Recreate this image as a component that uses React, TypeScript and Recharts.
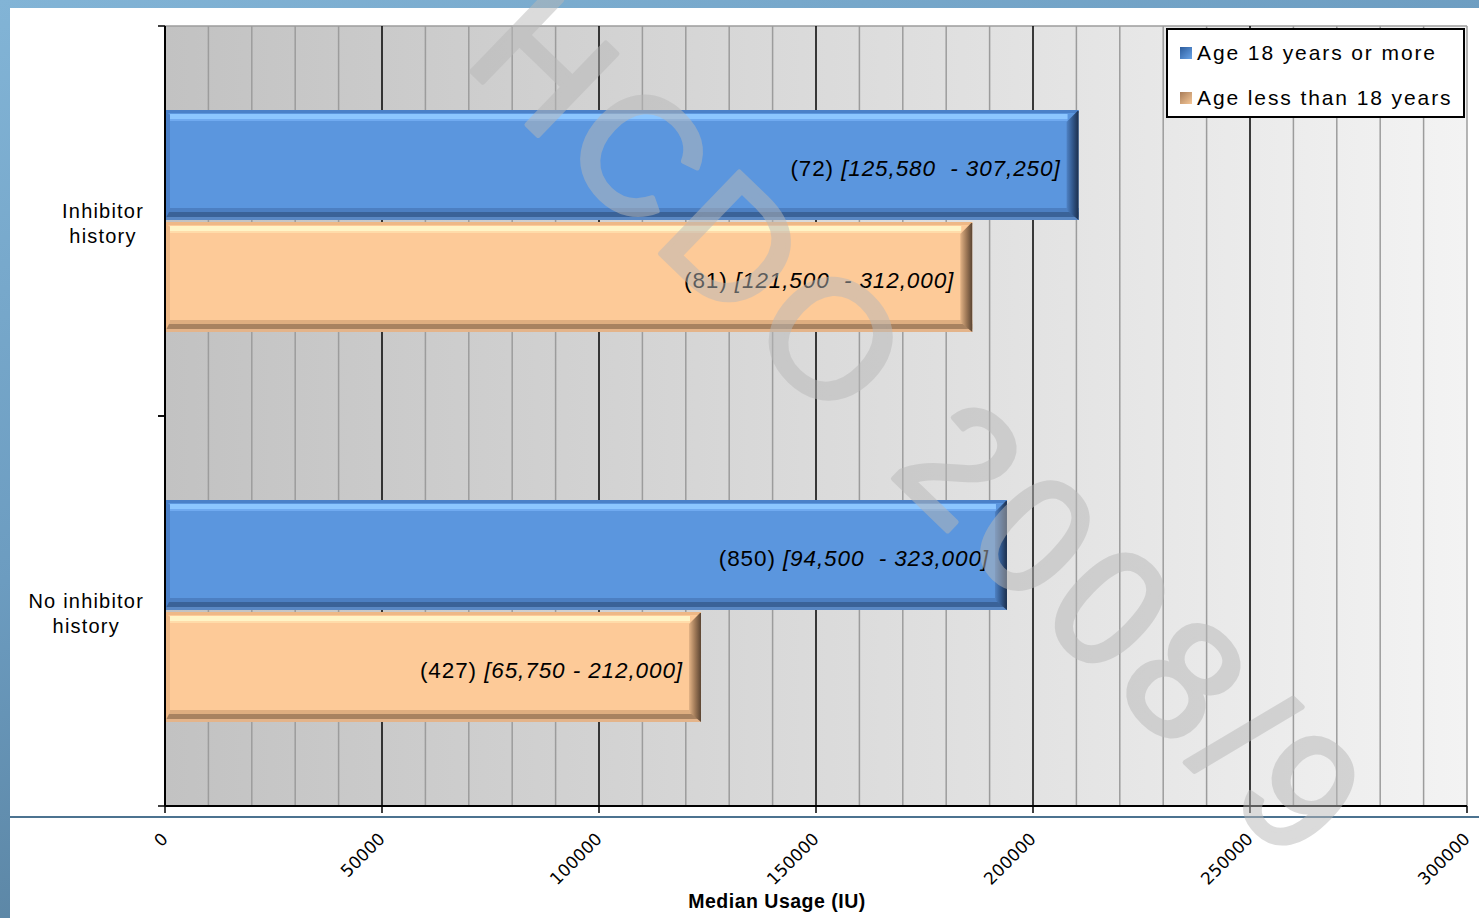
import React from 'react';
import { BarChart, Bar, XAxis, YAxis, CartesianGrid, Legend, LabelList } from 'recharts';

const categories = ['Inhibitor history', 'No inhibitor history'];
const categoryLines = [['Inhibitor', 'history'], ['No inhibitor', 'history']];
const seriesNames = ['Age 18 years or more', 'Age less than 18 years'];
const adultMedian = [210500, 194000];
const childMedian = [186000, 123500];
const adultCount = ['(72)', '(850)'];
const childCount = ['(81)', '(427)'];
const adultRange = ['[125,580  - 307,250]', '[94,500  - 323,000]'];
const childRange = ['[121,500  - 312,000]', '[65,750 - 212,000]'];
const majorTicks = [0, 50000, 100000, 150000, 200000, 250000, 300000];
const majorGrid = [50000, 100000, 150000, 200000, 250000];
const minorGrid = [
  10000, 20000, 30000, 40000, 60000, 70000, 80000, 90000, 110000, 120000, 130000, 140000,
  160000, 170000, 180000, 190000, 210000, 220000, 230000, 240000, 260000, 270000, 280000,
  290000, 300000,
];

const W = 1479;
const H = 918;
const PLOT_LEFT = 165;
const PLOT_TOP = 26;
const X_AXIS_H = 112;
const BAND = (H - PLOT_TOP - X_AXIS_H) / categories.length;
const SANS = '"Liberation Sans", Arial, sans-serif';

const data = categories.map((name, i) => ({
  name,
  adult: adultMedian[i],
  child: childMedian[i],
}));

const blue = {
  main: '#5b96de', edge: '#4a80c8', light: '#8cc6ff', mid: '#70aaf0',
  shade1: '#4c7fc2', shade2: '#3a6298', base: '#5a88c4', grad: 'blueEnd',
};
const orange = {
  main: '#fdca98', edge: '#eeb886', light: '#fff4c6', mid: '#ffdcaa',
  shade1: '#dfae80', shade2: '#a88260', base: '#e4b48a', grad: 'orangeEnd',
};

let ctx: CanvasRenderingContext2D | null = null;
const textWidth = (s: string, font: string, spacing: number) => {
  if (!ctx) ctx = document.createElement('canvas').getContext('2d');
  if (!ctx) return s.length * 9;
  ctx.font = font;
  return ctx.measureText(s).width + spacing * s.length;
};

const BevelBar = (props: any, pal: typeof blue) => {
  const { x, y, width, height } = props;
  if (!width || width <= 0) return <g />;
  const r = x + width;
  const b = y + height;
  return (
    <g>
      <rect x={x} y={y} width={width} height={height} fill={pal.main} />
      <rect x={x} y={y} width={width} height={3} fill={pal.edge} />
      <rect x={x + 5} y={y + 4} width={width - 16} height={5} fill={pal.light} />
      <rect x={x + 5} y={y + 9} width={width - 16} height={2} fill={pal.mid} />
      <rect x={x} y={b - 12} width={width} height={4} fill={pal.shade1} />
      <rect x={x} y={b - 8} width={width} height={5} fill={pal.shade2} />
      <rect x={x} y={b - 3} width={width} height={3} fill={pal.base} />
      <polygon points={`${x},${y} ${x + 5},${y + 5} ${x + 5},${b - 10} ${x},${b}`} fill={pal.edge} />
      <polygon
        points={`${r - 12},${y + 12} ${r - 1},${y + 1} ${r},${y + 1} ${r},${b} ${r - 12},${b - 10}`}
        fill={`url(#${pal.grad})`}
      />
    </g>
  );
};

const makeBarLabel = (counts: string[], ranges: string[]) => (props: any) => {
  const { x, y, width, height, index } = props;
  return (
    <text
      x={x + width - 18}
      y={y + height / 2 + 11}
      textAnchor="end"
      fontFamily={SANS}
      fontSize={22.5}
      letterSpacing={0.9}
      fill="#000"
      style={{ whiteSpace: 'pre' }}
    >
      <tspan>{counts[index] + ' '}</tspan>
      <tspan fontStyle="italic">{ranges[index]}</tspan>
    </text>
  );
};

const YTick = (props: any) => {
  const { y, payload } = props;
  const i = categories.indexOf(payload.value);
  const lines = categoryLines[i] || [payload.value];
  const font = `20px ${SANS}`;
  const maxW = Math.max(...lines.map((l) => textWidth(l, font, 1.2)));
  const cx = 144 - maxW / 2;
  return (
    <g>
      <line x1={PLOT_LEFT - 7} x2={PLOT_LEFT} y1={y - BAND / 2} y2={y - BAND / 2} stroke="#000" strokeWidth={1.5} />
      <line x1={PLOT_LEFT - 7} x2={PLOT_LEFT} y1={y + BAND / 2} y2={y + BAND / 2} stroke="#000" strokeWidth={1.5} />
      {lines.map((l, k) => (
        <text
          key={k}
          x={cx}
          y={y - 3 + k * 25}
          textAnchor="middle"
          fontFamily={SANS}
          fontSize={20}
          letterSpacing={1.2}
          fill="#000"
        >
          {l}
        </text>
      ))}
    </g>
  );
};

const XTick = (props: any) => {
  const { x, y, payload } = props;
  const ax = x + 4;
  const ay = y + 25;
  return (
    <text
      x={ax}
      y={ay}
      transform={`rotate(-45 ${ax} ${ay})`}
      textAnchor="end"
      fontFamily='"DejaVu Sans", Verdana, sans-serif'
      fontSize={17}
      fill="#000"
    >
      {payload.value}
    </text>
  );
};

const LegendBox = () => {
  const icons = [
    'linear-gradient(135deg, #2c5c9c, #6aa4e8)',
    'linear-gradient(135deg, #a87c58, #f6c898)',
  ];
  return (
    <div
      style={{
        width: 299, height: 90, boxSizing: 'border-box', border: '2px solid #000',
        background: '#fff', position: 'relative', fontFamily: SANS,
      }}
    >
      {seriesNames.map((n, i) => (
        <div key={n} style={{ position: 'absolute', left: 12, top: 8 + i * 45, height: 30, display: 'flex', alignItems: 'center' }}>
          <div style={{ width: 12, height: 12, background: icons[i], marginRight: 5 }} />
          <span style={{ fontSize: 21, letterSpacing: 1.9, color: '#000', whiteSpace: 'nowrap' }}>{n}</span>
        </div>
      ))}
    </div>
  );
};

export default function App() {
  return (
    <div style={{ position: 'absolute', left: 0, top: 0, width: W, height: H, overflow: 'hidden' }}>
      <div
        style={{
          position: 'absolute', inset: 0,
          background: 'linear-gradient(160deg, #82b4d6 0%, #6c9cc0 40%, #45677f 100%)',
        }}
      />
      <div style={{ position: 'absolute', left: 10, top: 8, right: 0, bottom: 0, background: '#fff' }} />
      <div style={{ position: 'absolute', left: 10, top: 816, right: 0, height: 1.5, background: '#4c7390' }} />
      <div style={{ position: 'absolute', left: 0, top: 0 }}>
        <BarChart
          width={W}
          height={H}
          data={data}
          layout="vertical"
          margin={{ top: PLOT_TOP, right: 12, bottom: 0, left: 0 }}
          barSize={110}
          barGap={2}
        >
          <defs>
            <linearGradient id="plotBg" x1="0" y1="0" x2="1" y2="0">
              <stop offset="0%" stopColor="#c2c2c2" />
              <stop offset="100%" stopColor="#f3f3f3" />
            </linearGradient>
            <linearGradient id="blueEnd" x1="0" y1="0" x2="1" y2="0">
              <stop offset="0%" stopColor="#4f82c4" />
              <stop offset="50%" stopColor="#32588c" />
              <stop offset="100%" stopColor="#1c2f4c" />
            </linearGradient>
            <linearGradient id="orangeEnd" x1="0" y1="0" x2="1" y2="0">
              <stop offset="0%" stopColor="#e4b486" />
              <stop offset="50%" stopColor="#a07a58" />
              <stop offset="100%" stopColor="#5a4432" />
            </linearGradient>
          </defs>
          <CartesianGrid
            fill="url(#plotBg)"
            stroke="#9c9c9c"
            strokeWidth={1.5}
            horizontalPoints={[PLOT_TOP]}
            verticalValues={minorGrid}
          />
          <CartesianGrid stroke="#000" strokeWidth={1.5} horizontal={false} verticalValues={majorGrid} />
          <XAxis
            type="number"
            domain={[0, 300000]}
            ticks={majorTicks}
            interval={0}
            height={X_AXIS_H}
            axisLine={{ stroke: '#000', strokeWidth: 2 }}
            tickLine={{ stroke: '#000', strokeWidth: 1.5 }}
            tickSize={7}
            tick={<XTick />}
            label={{
              value: 'Median Usage (IU)',
              position: 'insideBottom',
              offset: 10,
              dx: -39,
              style: { fontFamily: SANS, fontSize: 19.5, fontWeight: 'bold', fill: '#000', letterSpacing: 0.5 },
            }}
          />
          <YAxis
            type="category"
            dataKey="name"
            width={PLOT_LEFT}
            axisLine={{ stroke: '#000', strokeWidth: 2 }}
            tickLine={false}
            tick={<YTick />}
            interval={0}
          />
          <Legend
            layout="horizontal"
            verticalAlign="middle"
            align="center"
            content={<LegendBox />}
            wrapperStyle={{ position: 'absolute', left: 1166, top: 28, width: 299, height: 90 }}
          />
          <Bar
            dataKey="adult"
            name={seriesNames[0]}
            fill={blue.main}
            isAnimationActive={false}
            shape={(p: any) => BevelBar(p, blue)}
          >
            <LabelList content={makeBarLabel(adultCount, adultRange)} />
          </Bar>
          <Bar
            dataKey="child"
            name={seriesNames[1]}
            fill={orange.main}
            isAnimationActive={false}
            shape={(p: any) => BevelBar(p, orange)}
          >
            <LabelList content={makeBarLabel(childCount, childRange)} />
          </Bar>
        </BarChart>
      </div>
      <svg width={W} height={H} style={{ position: 'absolute', left: 0, top: 0, pointerEvents: 'none' }}>
        <g opacity={0.5}>
          <text
            x={462}
            y={62}
            transform="rotate(44 462 62)"
            fontFamily={SANS}
            fontSize={165}
            letterSpacing={12}
            fill="#b8b8b8"
            stroke="#b8b8b8"
            strokeWidth={5}
            strokeLinejoin="round"
          >
            HCDO 2008/9
          </text>
        </g>
      </svg>
    </div>
  );
}
